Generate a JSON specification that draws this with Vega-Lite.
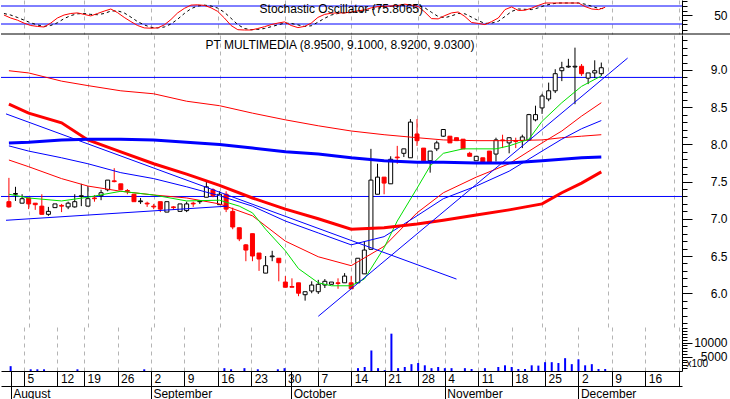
{
"$schema": "https://vega.github.io/schema/vega-lite/v6.json",
"padding": 0,
"background": "white",
"spacing": 0,
"config": {
  "view": {"stroke": null},
  "font": "Liberation Sans",
  "axis": {"labelFont": "Liberation Sans", "labelFontSize": 12, "labelColor": "black", "tickColor": "black", "domainColor": "black", "gridColor": "#b4b4b4", "gridDash": [4, 4], "title": null, "labelOverlap": false}
},
"datasets": {
  "stoch": [
    {"i":-3,"k":50,"d":55},{"i":-2,"k":40,"d":50},{"i":-1,"k":33,"d":42},{"i":0,"k":23,"d":33},{"i":1,"k":15,"d":24},{"i":2,"k":12,"d":17},{"i":3,"k":10,"d":12},{"i":4,"k":23,"d":15},{"i":5,"k":40,"d":24},{"i":6,"k":50,"d":38},{"i":7,"k":55,"d":48},{"i":8,"k":57,"d":54},{"i":9,"k":52,"d":55},{"i":10,"k":47,"d":52},{"i":11,"k":55,"d":51},{"i":12,"k":63,"d":55},{"i":13,"k":70,"d":63},{"i":14,"k":58,"d":64},{"i":15,"k":42,"d":57},{"i":16,"k":28,"d":43},{"i":17,"k":15,"d":28},{"i":18,"k":7,"d":17},{"i":19,"k":6,"d":9},{"i":20,"k":7,"d":7},{"i":21,"k":17,"d":10},{"i":22,"k":35,"d":20},{"i":23,"k":57,"d":36},{"i":24,"k":72,"d":55},{"i":25,"k":83,"d":71},{"i":26,"k":84,"d":80},{"i":27,"k":82,"d":83},{"i":28,"k":74,"d":80},{"i":29,"k":62,"d":73},{"i":30,"k":40,"d":59},{"i":31,"k":15,"d":39},{"i":32,"k":1,"d":18},{"i":33,"k":0,"d":5},{"i":34,"k":0,"d":1},{"i":35,"k":5,"d":2},{"i":36,"k":11,"d":5},{"i":37,"k":18,"d":11},{"i":38,"k":23,"d":17},{"i":39,"k":27,"d":23},{"i":40,"k":15,"d":22},{"i":41,"k":8,"d":17},{"i":42,"k":12,"d":12},{"i":43,"k":23,"d":14},{"i":44,"k":42,"d":26},{"i":45,"k":52,"d":39},{"i":46,"k":56,"d":50},{"i":47,"k":57,"d":55},{"i":48,"k":57,"d":57},{"i":49,"k":60,"d":58},{"i":50,"k":64,"d":60},{"i":51,"k":67,"d":64},{"i":52,"k":74,"d":68},{"i":53,"k":78,"d":73},{"i":54,"k":79,"d":77},{"i":55,"k":80,"d":79},{"i":56,"k":82,"d":80},{"i":57,"k":86,"d":83},{"i":58,"k":83,"d":84},{"i":59,"k":78,"d":82},{"i":60,"k":60,"d":74},{"i":61,"k":38,"d":59},{"i":62,"k":37,"d":45},{"i":63,"k":48,"d":41},{"i":64,"k":57,"d":47},{"i":65,"k":60,"d":55},{"i":66,"k":45,"d":54},{"i":67,"k":25,"d":43},{"i":68,"k":22,"d":31},{"i":69,"k":18,"d":22},{"i":70,"k":28,"d":23},{"i":71,"k":40,"d":29},{"i":72,"k":68,"d":45},{"i":73,"k":77,"d":62},{"i":74,"k":65,"d":70},{"i":75,"k":66,"d":69},{"i":76,"k":73,"d":68},{"i":77,"k":82,"d":74},{"i":78,"k":90,"d":82},{"i":79,"k":90,"d":87},{"i":80,"k":90,"d":90},{"i":81,"k":90,"d":90},{"i":82,"k":90,"d":90},{"i":83,"k":90,"d":90},{"i":84,"k":78,"d":86},{"i":85,"k":70,"d":79},{"i":86,"k":68,"d":72},{"i":87,"k":75.8,"d":71}
  ],
  "candles": [
    {"i":-3,"o":7.23,"h":7.55,"l":7.15,"c":7.16},{"i":-2,"o":7.33,"h":7.43,"l":7.24,"c":7.34},{"i":-1,"o":7.21,"h":7.33,"l":7.21,"c":7.27},{"i":0,"o":7.28,"h":7.28,"l":7.13,"c":7.2},{"i":1,"o":7.21,"h":7.21,"l":7.12,"c":7.19},{"i":2,"o":7.17,"h":7.33,"l":7.06,"c":7.06},{"i":3,"o":7.06,"h":7.16,"l":7.04,"c":7.1},{"i":4,"o":7.15,"h":7.2,"l":7.15,"c":7.2},{"i":5,"o":7.18,"h":7.2,"l":7.09,"c":7.17},{"i":6,"o":7.16,"h":7.23,"l":7.13,"c":7.21},{"i":7,"o":7.16,"h":7.33,"l":7.15,"c":7.23},{"i":8,"o":7.3,"h":7.47,"l":7.17,"c":7.31},{"i":9,"o":7.17,"h":7.44,"l":7.17,"c":7.27},{"i":10,"o":7.28,"h":7.32,"l":7.23,"c":7.27},{"i":11,"o":7.31,"h":7.39,"l":7.25,"c":7.35},{"i":12,"o":7.39,"h":7.52,"l":7.37,"c":7.52},{"i":13,"o":7.51,"h":7.68,"l":7.49,"c":7.5},{"i":14,"o":7.47,"h":7.47,"l":7.39,"c":7.39},{"i":15,"o":7.38,"h":7.4,"l":7.33,"c":7.37},{"i":16,"o":7.33,"h":7.33,"l":7.23,"c":7.23},{"i":17,"o":7.23,"h":7.28,"l":7.2,"c":7.24},{"i":18,"o":7.21,"h":7.23,"l":7.16,"c":7.2},{"i":19,"o":7.17,"h":7.2,"l":7.13,"c":7.16},{"i":20,"o":7.23,"h":7.23,"l":7.09,"c":7.13},{"i":21,"o":7.09,"h":7.23,"l":7.09,"c":7.23},{"i":22,"o":7.16,"h":7.17,"l":7.12,"c":7.15},{"i":23,"o":7.1,"h":7.2,"l":7.1,"c":7.2},{"i":24,"o":7.11,"h":7.23,"l":7.09,"c":7.2},{"i":25,"o":7.21,"h":7.23,"l":7.16,"c":7.2},{"i":26,"o":7.23,"h":7.25,"l":7.2,"c":7.24},{"i":27,"o":7.29,"h":7.5,"l":7.29,"c":7.43},{"i":28,"o":7.39,"h":7.41,"l":7.29,"c":7.31},{"i":29,"o":7.19,"h":7.37,"l":7.19,"c":7.33},{"i":30,"o":7.33,"h":7.37,"l":7.09,"c":7.13},{"i":31,"o":7.1,"h":7.15,"l":6.86,"c":6.89},{"i":32,"o":6.88,"h":6.88,"l":6.7,"c":6.73},{"i":33,"o":6.65,"h":6.66,"l":6.43,"c":6.58},{"i":34,"o":6.8,"h":6.8,"l":6.43,"c":6.5},{"i":35,"o":6.54,"h":6.54,"l":6.3,"c":6.46},{"i":36,"o":6.27,"h":6.5,"l":6.27,"c":6.37},{"i":37,"o":6.49,"h":6.57,"l":6.43,"c":6.5},{"i":38,"o":6.47,"h":6.47,"l":6.16,"c":6.41},{"i":39,"o":6.15,"h":6.23,"l":6.08,"c":6.08},{"i":40,"o":6.09,"h":6.2,"l":6.08,"c":6.08},{"i":41,"o":6.14,"h":6.14,"l":5.96,"c":6.0},{"i":42,"o":5.98,"h":6.02,"l":5.9,"c":6.02},{"i":43,"o":6.03,"h":6.16,"l":6.0,"c":6.11},{"i":44,"o":6.02,"h":6.18,"l":5.99,"c":6.12},{"i":45,"o":6.11,"h":6.19,"l":6.07,"c":6.16},{"i":46,"o":6.12,"h":6.15,"l":6.12,"c":6.15},{"i":47,"o":6.14,"h":6.2,"l":6.06,"c":6.13},{"i":48,"o":6.14,"h":6.27,"l":6.14,"c":6.23},{"i":49,"o":6.14,"h":6.23,"l":6.06,"c":6.06},{"i":50,"o":6.14,"h":6.47,"l":6.14,"c":6.47},{"i":51,"o":6.26,"h":6.7,"l":6.26,"c":6.58},{"i":52,"o":6.59,"h":7.94,"l":6.59,"c":7.52},{"i":53,"o":7.33,"h":7.74,"l":7.33,"c":7.56},{"i":54,"o":7.56,"h":7.56,"l":7.33,"c":7.48},{"i":55,"o":7.47,"h":7.84,"l":7.47,"c":7.8},{"i":56,"o":7.83,"h":7.98,"l":7.74,"c":7.82},{"i":57,"o":7.88,"h":7.94,"l":7.83,"c":7.94},{"i":58,"o":7.82,"h":8.34,"l":7.82,"c":8.3},{"i":59,"o":8.14,"h":8.34,"l":7.98,"c":8.05},{"i":60,"o":7.95,"h":7.95,"l":7.75,"c":7.78},{"i":61,"o":7.78,"h":7.91,"l":7.62,"c":7.91},{"i":62,"o":7.94,"h":8.05,"l":7.91,"c":8.02},{"i":63,"o":8.11,"h":8.2,"l":8.1,"c":8.2},{"i":64,"o":8.11,"h":8.11,"l":8.02,"c":8.02},{"i":65,"o":8.09,"h":8.09,"l":8.05,"c":8.05},{"i":66,"o":8.07,"h":8.07,"l":7.94,"c":7.94},{"i":67,"o":7.88,"h":7.9,"l":7.84,"c":7.84},{"i":68,"o":7.78,"h":7.84,"l":7.78,"c":7.84},{"i":69,"o":7.82,"h":7.82,"l":7.76,"c":7.76},{"i":70,"o":7.91,"h":7.91,"l":7.75,"c":7.75},{"i":71,"o":7.87,"h":8.09,"l":7.77,"c":8.06},{"i":72,"o":8.06,"h":8.13,"l":7.95,"c":8.05},{"i":73,"o":8.02,"h":8.09,"l":7.88,"c":8.09},{"i":74,"o":8.05,"h":8.09,"l":7.95,"c":8.04},{"i":75,"o":8.05,"h":8.13,"l":7.95,"c":8.1},{"i":76,"o":8.06,"h":8.41,"l":8.05,"c":8.4},{"i":77,"o":8.33,"h":8.52,"l":8.31,"c":8.4},{"i":78,"o":8.49,"h":8.68,"l":8.41,"c":8.65},{"i":79,"o":8.61,"h":8.83,"l":8.58,"c":8.72},{"i":80,"o":8.72,"h":9.01,"l":8.69,"c":8.95},{"i":81,"o":8.99,"h":9.11,"l":8.85,"c":9.03},{"i":82,"o":9.04,"h":9.15,"l":9.03,"c":9.05},{"i":83,"o":9.04,"h":9.3,"l":8.54,"c":9.05},{"i":84,"o":9.05,"h":9.08,"l":8.92,"c":8.95},{"i":85,"o":8.89,"h":8.96,"l":8.81,"c":8.96},{"i":86,"o":8.96,"h":9.13,"l":8.89,"c":8.99},{"i":87,"o":8.95,"h":9.1,"l":8.92,"c":9.03}
  ],
  "vol": [
    {"i":-2,"v":1700},{"i":1,"v":600},{"i":2,"v":600},{"i":3,"v":600},{"i":8,"v":600},{"i":18,"v":600},{"i":30,"v":1000},{"i":31,"v":600},{"i":33,"v":1000},{"i":35,"v":600},{"i":38,"v":600},{"i":39,"v":1000},{"i":50,"v":1000},{"i":51,"v":1400},{"i":52,"v":7200},{"i":53,"v":1000},{"i":54,"v":300},{"i":55,"v":13100},{"i":56,"v":1000},{"i":57,"v":1400},{"i":58,"v":2400},{"i":59,"v":2800},{"i":60,"v":2000},{"i":61,"v":1000},{"i":62,"v":1400},{"i":63,"v":1000},{"i":64,"v":1000},{"i":66,"v":1000},{"i":67,"v":700},{"i":69,"v":1000},{"i":71,"v":1400},{"i":72,"v":2000},{"i":73,"v":1400},{"i":74,"v":700},{"i":75,"v":700},{"i":76,"v":2000},{"i":77,"v":1900},{"i":78,"v":3100},{"i":79,"v":3100},{"i":80,"v":2800},{"i":81,"v":4500},{"i":82,"v":2400},{"i":83,"v":4100},{"i":84,"v":2000},{"i":85,"v":2400},{"i":86,"v":700},{"i":87,"v":700}
  ],
  "ma": [
    {"s":"R","i":-3,"p":8.54},{"s":"R","i":0,"p":8.42},{"s":"R","i":5,"p":8.29},{"s":"R","i":9,"p":8.06},{"s":"R","i":14,"p":7.9},{"s":"R","i":19,"p":7.74},{"s":"R","i":24,"p":7.6},{"s":"R","i":29,"p":7.45},{"s":"R","i":34,"p":7.28},{"s":"R","i":39,"p":7.13},{"s":"R","i":44,"p":7.0},{"s":"R","i":49,"p":6.86},{"s":"R","i":54,"p":6.88},{"s":"R","i":59,"p":6.93},{"s":"R","i":63,"p":6.98},{"s":"R","i":68,"p":7.05},{"s":"R","i":73,"p":7.12},{"s":"R","i":78,"p":7.2},{"s":"R","i":81,"p":7.35},{"s":"R","i":84,"p":7.48},{"s":"R","i":87,"p":7.63},
    {"s":"B","i":-3,"p":8.02},{"s":"B","i":0,"p":8.03},{"s":"B","i":5,"p":8.06},{"s":"B","i":9,"p":8.07},{"s":"B","i":14,"p":8.07},{"s":"B","i":19,"p":8.06},{"s":"B","i":24,"p":8.03},{"s":"B","i":29,"p":8.0},{"s":"B","i":34,"p":7.95},{"s":"B","i":39,"p":7.9},{"s":"B","i":44,"p":7.87},{"s":"B","i":49,"p":7.82},{"s":"B","i":54,"p":7.78},{"s":"B","i":59,"p":7.76},{"s":"B","i":63,"p":7.76},{"s":"B","i":68,"p":7.75},{"s":"B","i":73,"p":7.75},{"s":"B","i":78,"p":7.78},{"s":"B","i":81,"p":7.8},{"s":"B","i":84,"p":7.82},{"s":"B","i":87,"p":7.83},
    {"s":"r2","i":-3,"p":8.99},{"s":"r2","i":0,"p":8.96},{"s":"r2","i":5,"p":8.85},{"s":"r2","i":9,"p":8.79},{"s":"r2","i":14,"p":8.72},{"s":"r2","i":19,"p":8.68},{"s":"r2","i":24,"p":8.58},{"s":"r2","i":29,"p":8.52},{"s":"r2","i":34,"p":8.42},{"s":"r2","i":39,"p":8.33},{"s":"r2","i":44,"p":8.25},{"s":"r2","i":49,"p":8.18},{"s":"r2","i":54,"p":8.13},{"s":"r2","i":59,"p":8.09},{"s":"r2","i":63,"p":8.06},{"s":"r2","i":68,"p":8.05},{"s":"r2","i":73,"p":8.05},{"s":"r2","i":78,"p":8.06},{"s":"r2","i":81,"p":8.09},{"s":"r2","i":84,"p":8.11},{"s":"r2","i":87,"p":8.13},
    {"s":"r1","i":-3,"p":7.79},{"s":"r1","i":0,"p":7.7},{"s":"r1","i":5,"p":7.54},{"s":"r1","i":9,"p":7.44},{"s":"r1","i":14,"p":7.37},{"s":"r1","i":19,"p":7.32},{"s":"r1","i":24,"p":7.28},{"s":"r1","i":29,"p":7.2},{"s":"r1","i":34,"p":7.04},{"s":"r1","i":39,"p":6.7},{"s":"r1","i":44,"p":6.49},{"s":"r1","i":49,"p":6.37},{"s":"r1","i":54,"p":6.63},{"s":"r1","i":59,"p":7.08},{"s":"r1","i":63,"p":7.35},{"s":"r1","i":68,"p":7.56},{"s":"r1","i":73,"p":7.74},{"s":"r1","i":78,"p":8.02},{"s":"r1","i":81,"p":8.18},{"s":"r1","i":84,"p":8.38},{"s":"r1","i":87,"p":8.56},
    {"s":"b1","i":-3,"p":7.98},{"s":"b1","i":0,"p":7.91},{"s":"b1","i":5,"p":7.82},{"s":"b1","i":9,"p":7.74},{"s":"b1","i":14,"p":7.62},{"s":"b1","i":19,"p":7.54},{"s":"b1","i":24,"p":7.43},{"s":"b1","i":29,"p":7.31},{"s":"b1","i":34,"p":7.17},{"s":"b1","i":39,"p":6.97},{"s":"b1","i":44,"p":6.81},{"s":"b1","i":49,"p":6.65},{"s":"b1","i":54,"p":6.76},{"s":"b1","i":59,"p":7.04},{"s":"b1","i":63,"p":7.27},{"s":"b1","i":68,"p":7.44},{"s":"b1","i":73,"p":7.64},{"s":"b1","i":78,"p":7.91},{"s":"b1","i":81,"p":8.07},{"s":"b1","i":84,"p":8.21},{"s":"b1","i":87,"p":8.32},
    {"s":"g","i":-3,"p":7.33},{"s":"g","i":0,"p":7.28},{"s":"g","i":5,"p":7.24},{"s":"g","i":9,"p":7.29},{"s":"g","i":14,"p":7.37},{"s":"g","i":19,"p":7.32},{"s":"g","i":24,"p":7.24},{"s":"g","i":29,"p":7.25},{"s":"g","i":32,"p":7.17},{"s":"g","i":34,"p":7.08},{"s":"g","i":36,"p":6.86},{"s":"g","i":39,"p":6.57},{"s":"g","i":41,"p":6.33},{"s":"g","i":44,"p":6.14},{"s":"g","i":46,"p":6.1},{"s":"g","i":49,"p":6.1},{"s":"g","i":51,"p":6.19},{"s":"g","i":54,"p":6.61},{"s":"g","i":56,"p":6.97},{"s":"g","i":59,"p":7.41},{"s":"g","i":61,"p":7.71},{"s":"g","i":63,"p":7.88},{"s":"g","i":66,"p":7.94},{"s":"g","i":68,"p":7.94},{"s":"g","i":71,"p":7.94},{"s":"g","i":73,"p":7.98},{"s":"g","i":76,"p":8.07},{"s":"g","i":78,"p":8.31},{"s":"g","i":81,"p":8.56},{"s":"g","i":84,"p":8.78},{"s":"g","i":87,"p":8.92}
  ],
  "trend": [
    {"s":"t1","i":-3.443,"p":8.41},{"s":"t1","i":65,"p":6.19},
    {"s":"t2","i":44,"p":5.69},{"s":"t2","i":91,"p":9.16},
    {"s":"t3","i":-3.443,"p":6.98},{"s":"t3","i":30.2,"p":7.17}
  ]
},
"vconcat": [
  {
    "width": 681, "height": 34,
    "layer": [
      {"data": {"values": [{"lv": 80}, {"lv": 20}]},
       "mark": {"type": "rule", "color": "#0000ff", "strokeWidth": 1},
       "encoding": {"y": {"field": "lv", "type": "quantitative", "scale": {"domain": [-13.33, 100], "nice": false, "zero": false},
         "axis": {"orient": "right", "values": [50], "tickSize": 10, "labelAlign": "right", "labelPadding": 35, "labelBaseline": "middle", "grid": false, "domain": true}}}},
      {"data": {"name": "stoch"},
       "mark": {"type": "line", "color": "black", "strokeWidth": 1, "strokeDash": [3, 3]},
       "encoding": {"x": {"field": "i", "type": "quantitative", "scale": {"domain": [-3.443, 98.5], "nice": false, "zero": false},
           "axis": {"values": [0, 5, 9, 14, 19, 24, 29, 34, 39, 44, 49, 54, 59, 63, 68, 73, 78, 83, 88, 93, 98], "grid": true, "labels": false, "ticks": false, "domain": false}},
         "y": {"field": "d", "type": "quantitative", "axis": null}}},
      {"data": {"name": "stoch"},
       "mark": {"type": "line", "color": "#ff0000", "strokeWidth": 1},
       "encoding": {"x": {"field": "i", "type": "quantitative"}, "y": {"field": "k", "type": "quantitative",
         "axis": {"orient": "right", "values": [0, 20, 35, 65, 80, 98], "tickSize": 5, "labels": false, "grid": false, "domain": false}}}},
      {"data": {"values": [{"i": 47.5, "v": 56.5, "t": "Stochastic Oscillator (75.8065)"}]},
       "mark": {"type": "text", "font": "Liberation Sans", "fontSize": 12, "color": "black", "align": "center", "baseline": "alphabetic"},
       "encoding": {"x": {"field": "i", "type": "quantitative"}, "y": {"field": "v", "type": "quantitative", "axis": null}, "text": {"field": "t"}}},
      {"data": {"values": [{"a": -3.443, "b": 105.8, "y": -13.33}]},
       "mark": {"type": "rule", "color": "black", "strokeWidth": 1},
       "encoding": {"x": {"field": "a", "type": "quantitative"}, "x2": {"field": "b"}, "y": {"field": "y", "type": "quantitative", "axis": null}}}
    ],
    "resolve": {"axis": {"y": "independent"}}
  },
  {
    "width": 681, "height": 292,
    "layer": [
      {"data": {"values": [{"lv": 8.9}, {"lv": 7.3}]},
       "mark": {"type": "rule", "color": "#0000ff", "strokeWidth": 1},
       "encoding": {"y": {"field": "lv", "type": "quantitative", "scale": {"domain": [5.546, 9.47], "nice": false, "zero": false},
         "axis": {"orient": "right", "values": [6.0, 6.5, 7.0, 7.5, 8.0, 8.5, 9.0], "format": ".1f", "tickSize": 10,
           "labelAlign": "right", "labelPadding": 35, "labelBaseline": "middle", "grid": false, "domain": true}}}},
      {"data": {"name": "candles"},
       "mark": {"type": "rule", "strokeWidth": 1},
       "encoding": {"x": {"field": "i", "type": "quantitative", "scale": {"domain": [-3.443, 98.5], "nice": false, "zero": false},
           "axis": {"values": [0, 5, 9, 14, 19, 24, 29, 34, 39, 44, 49, 54, 59, 63, 68, 73, 78, 83, 88, 93, 98], "grid": true, "labels": false, "ticks": false, "domain": false}},
         "y": {"field": "l", "type": "quantitative", "axis": {"orient": "right", "values": [5.6,5.7,5.8,5.9,6.1,6.2,6.3,6.4,6.6,6.7,6.8,6.9,7.1,7.2,7.3,7.4,7.6,7.7,7.8,7.9,8.1,8.2,8.3,8.4,8.6,8.7,8.8,8.9,9.1,9.2,9.3,9.4], "tickSize": 5, "labels": false, "grid": false, "domain": false}},
         "y2": {"field": "h"},
         "color": {"condition": {"test": "datum.c < datum.o", "value": "#ff0000"}, "value": "black"}}},
      {"data": {"name": "candles"},
       "mark": {"type": "bar", "width": 4, "strokeWidth": 1},
       "encoding": {"x": {"field": "i", "type": "quantitative"},
         "y": {"field": "o", "type": "quantitative", "axis": null}, "y2": {"field": "c"},
         "fill": {"condition": {"test": "datum.c < datum.o", "value": "#ff0000"}, "value": "white"},
         "stroke": {"condition": {"test": "datum.c < datum.o", "value": "#ff0000"}, "value": "black"}}},
      {"data": {"name": "ma"},
       "transform": [{"filter": "datum.s != 'R' && datum.s != 'B'"}],
       "mark": {"type": "line", "strokeWidth": 1},
       "encoding": {"x": {"field": "i", "type": "quantitative"}, "y": {"field": "p", "type": "quantitative", "axis": null},
         "color": {"field": "s", "type": "nominal", "scale": {"domain": ["g", "r1", "b1", "r2"], "range": ["#00e000", "#ff0000", "#0000ff", "#ff0000"]}, "legend": null}}},
      {"data": {"name": "ma"},
       "transform": [{"filter": "datum.s == 'R' || datum.s == 'B'"}],
       "mark": {"type": "line", "strokeWidth": 3},
       "encoding": {"x": {"field": "i", "type": "quantitative"}, "y": {"field": "p", "type": "quantitative", "axis": null},
         "stroke": {"field": "s", "type": "nominal", "scale": {"domain": ["R", "B"], "range": ["#ff0000", "#0000ff"]}, "legend": null}}},
      {"data": {"name": "trend"},
       "mark": {"type": "line", "strokeWidth": 1, "color": "#0000ff"},
       "encoding": {"x": {"field": "i", "type": "quantitative"}, "y": {"field": "p", "type": "quantitative", "axis": null}, "detail": {"field": "s"}}},
      {"data": {"values": [{"i": 47.3, "p": 9.282, "t": "PT MULTIMEDIA (8.9500, 9.1000, 8.9200, 9.0300)"}]},
       "mark": {"type": "text", "font": "Liberation Sans", "fontSize": 12, "color": "black", "align": "center", "baseline": "alphabetic"},
       "encoding": {"x": {"field": "i", "type": "quantitative"}, "y": {"field": "p", "type": "quantitative", "axis": null}, "text": {"field": "t"}}}
    ],
    "resolve": {"axis": {"y": "independent"}}
  },
  {
    "width": 681, "height": 44,
    "layer": [
      {"data": {"name": "vol"},
       "mark": {"type": "rule", "color": "#0000ff", "strokeWidth": 2},
       "encoding": {
         "x": {"field": "i", "type": "quantitative", "scale": {"domain": [-3.443, 98.5], "nice": false, "zero": false},
           "axis": {"orient": "bottom", "values": [-2, 0, 5, 9, 14, 19, 24, 29, 34, 39, 40, 44, 49, 54, 59, 63, 68, 73, 78, 83, 88, 93, 98],
             "tickSize": 15, "domain": true, "grid": true,
             "gridOpacity": {"condition": {"test": "datum.value == -2 || datum.value == 40", "value": 0}, "value": 1},
             "labelAlign": "left", "labelOffset": 3, "labelPadding": -13, "labelBaseline": "top", "labelFlush": false, "labelBound": false,
             "labelExpr": "datum.value == 0 ? '5' : datum.value == 5 ? '12' : datum.value == 9 ? '19' : datum.value == 14 ? '26' : datum.value == 19 ? '2' : datum.value == 24 ? '9' : datum.value == 29 ? '16' : datum.value == 34 ? '23' : datum.value == 39 ? '30' : datum.value == 44 ? '7' : datum.value == 49 ? '14' : datum.value == 54 ? '21' : datum.value == 59 ? '28' : datum.value == 63 ? '4' : datum.value == 68 ? '11' : datum.value == 73 ? '18' : datum.value == 78 ? '25' : datum.value == 83 ? '2' : datum.value == 88 ? '9' : datum.value == 93 ? '16' : ''"}},
         "y": {"field": "v", "type": "quantitative", "scale": {"domain": [0, 15440], "nice": false, "zero": false},
           "axis": {"orient": "right", "values": [5000, 10000], "format": "d", "tickSize": 10,
             "labelAlign": "right", "labelPadding": 35, "labelBaseline": "middle", "grid": false, "domain": true,
             "title": "x100", "titleAngle": 0, "titleX": 4, "titleY": 36, "titleAlign": "left", "titleBaseline": "middle", "titleFontSize": 10, "titleFontWeight": "normal", "titleFont": "Liberation Sans", "titleColor": "black"}},
         "y2": {"datum": 0}}},
      {"data": {"name": "vol"},
       "mark": {"type": "point", "opacity": 0},
       "encoding": {"x": {"field": "i", "type": "quantitative",
         "axis": {"orient": "bottom", "offset": 15, "values": [-2, 19, 40, 63, 83], "tickSize": 14, "grid": false, "domain": true,
           "labelExpr": "datum.value == -2 ? 'August' : datum.value == 19 ? 'September' : datum.value == 40 ? 'October' : datum.value == 63 ? 'November' : 'December'",
           "labelAlign": "left", "labelOffset": 2, "labelPadding": -12, "labelBaseline": "top", "labelFlush": false, "labelBound": false}},
         "y": {"field": "v", "type": "quantitative",
           "axis": {"orient": "right", "values": [1000,2000,3000,4000,6000,7000,8000,9000,11000,12000,13000,14000,15000], "tickSize": 5, "labels": false, "grid": false, "domain": false}}}}
    ],
    "resolve": {"axis": {"x": "independent", "y": "independent"}}
  }
]
}
